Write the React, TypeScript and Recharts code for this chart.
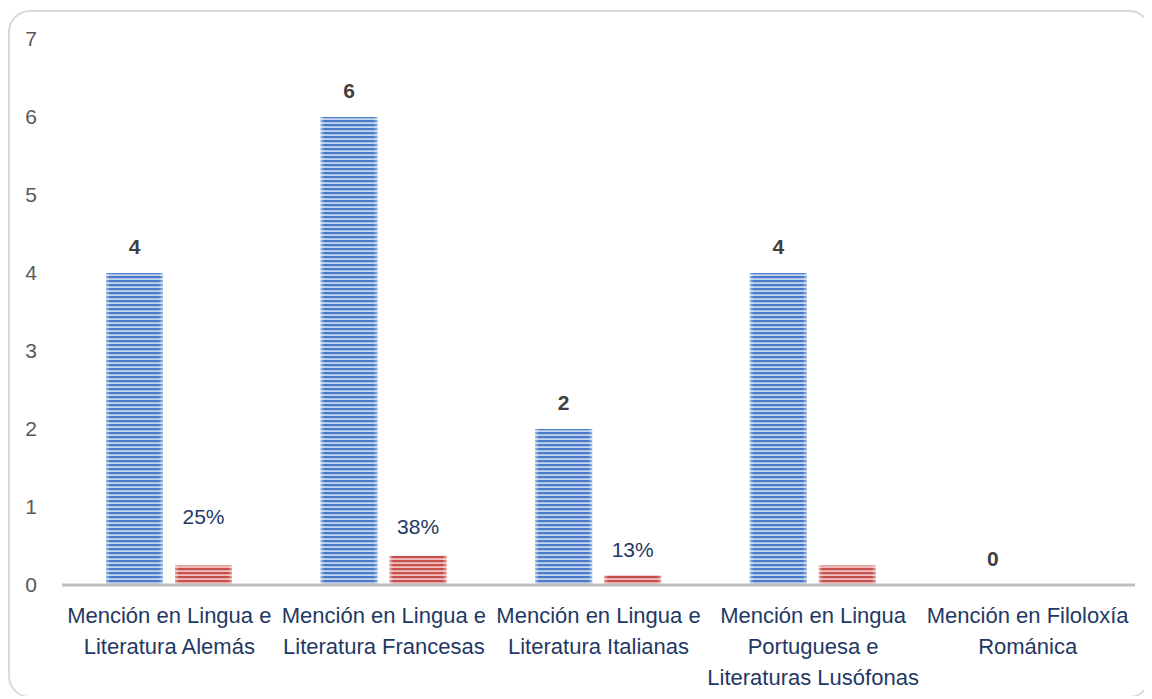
import { Bar, BarChart, LabelList, XAxis, YAxis } from "recharts";

const categories = [
  "Mención en Lingua e\nLiteratura Alemás",
  "Mención en Lingua e\nLiteratura Francesas",
  "Mención en Lingua e\nLiteratura Italianas",
  "Mención en Lingua\nPortuguesa e\nLiteraturas Lusófonas",
  "Mención en Filoloxía\nRománica",
];
const counts = [4, 6, 2, 4, 0];
const shares = [0.25, 0.375, 0.125, 0.25, 0];
const shareLabels = ["25%", "38%", "13%", "", ""];
const yTicks = [0, 1, 2, 3, 4, 5, 6, 7];

// the percentage labels were dragged by hand in the original, each sits at its own height
const shareLabelLift = [42, 22, 18, 0, 0];

const FONT = "'Liberation Sans', Arial, sans-serif";

const data = categories.map((name, i) => ({
  name,
  count: counts[i],
  share: shares[i],
  shareLabel: shareLabels[i],
}));

const StripedBar = (props: any) => {
  const { x, y, width, height, pattern } = props;
  if (!height || height <= 0) return null;
  return (
    <g>
      <rect x={x} y={y} width={width} height={height} fill={`url(#${pattern})`} />
      <rect x={x} y={y} width={width} height={height} fill="url(#edgeGlow)" />
    </g>
  );
};

const CategoryTick = (props: any) => {
  const { x, y, payload } = props;
  const lines = String(payload.value).split("\n");
  return (
    <text x={x} y={y} textAnchor="middle" fill="#1f3864" fontSize={22} fontFamily={FONT}>
      {lines.map((line, i) => (
        <tspan key={i} x={x} dy={i === 0 ? 38 : 31}>
          {line}
        </tspan>
      ))}
    </text>
  );
};

const ShareLabel = (props: any) => {
  const vb = props.viewBox ?? props;
  const { value, index } = props;
  if (!value) return null;
  return (
    <text
      x={vb.x + vb.width / 2}
      y={vb.y - (shareLabelLift[index] ?? 20)}
      textAnchor="middle"
      fill="#1f3864"
      fontSize={21}
      fontFamily={FONT}
    >
      {value}
    </text>
  );
};

export default function App() {
  return (
    <div
      style={{
        position: "relative",
        top: 2,
        width: 1143,
        height: 688,
        boxSizing: "border-box",
        border: "2px solid #d9d9d9",
        borderRadius: 22,
        background: "#fff",
      }}
    >
      <BarChart
        width={1139}
        height={684}
        data={data}
        margin={{ top: 27, right: 14, bottom: 11, left: 0 }}
        barSize={57}
        barGap={12}
      >
        <defs>
          <pattern id="blueStripes" patternUnits="userSpaceOnUse" width={4} height={4}>
            <rect width={4} height={4} fill="#c3d4ee" />
            <rect width={4} height={2.2} fill="#4a7bc8" />
          </pattern>
          <pattern id="redStripes" patternUnits="userSpaceOnUse" width={4} height={4}>
            <rect width={4} height={4} fill="#f1c0be" />
            <rect width={4} height={2.2} fill="#c4504d" />
          </pattern>
          <linearGradient id="edgeGlow" x1="0" y1="0" x2="1" y2="0">
            <stop offset="0" stopColor="#fff" stopOpacity={0.45} />
            <stop offset="0.07" stopColor="#fff" stopOpacity={0} />
            <stop offset="0.93" stopColor="#fff" stopOpacity={0} />
            <stop offset="1" stopColor="#fff" stopOpacity={0.45} />
          </linearGradient>
        </defs>
        <XAxis
          dataKey="name"
          height={100}
          interval={0}
          axisLine={{ stroke: "#bfbfbf", strokeWidth: 3 }}
          tickLine={false}
          tickSize={0}
          tickMargin={0}
          tick={(p: any) => <CategoryTick {...p} />}
        />
        <YAxis
          width={52}
          domain={[0, 7]}
          ticks={yTicks}
          interval={0}
          axisLine={false}
          tickLine={false}
          tickSize={0}
          tickMargin={25}
          tick={{ fill: "#595959", fontSize: 21, fontFamily: FONT }}
        />
        <Bar
          dataKey="count"
          isAnimationActive={false}
          fill="#4a7bc8"
          shape={(p: any) => <StripedBar {...p} pattern="blueStripes" />}
        >
          <LabelList
            dataKey="count"
            position="top"
            offset={19}
            fill="#404040"
            fontSize={21}
            fontWeight="bold"
            fontFamily={FONT}
          />
        </Bar>
        <Bar
          dataKey="share"
          isAnimationActive={false}
          fill="#c4504d"
          shape={(p: any) => <StripedBar {...p} pattern="redStripes" />}
        >
          <LabelList dataKey="shareLabel" content={(p: any) => <ShareLabel {...p} />} />
        </Bar>
      </BarChart>
    </div>
  );
}
